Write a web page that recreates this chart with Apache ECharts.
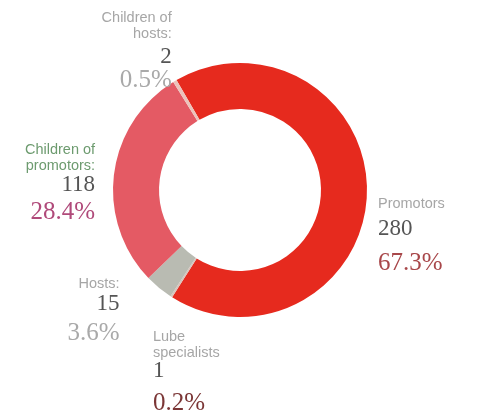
<!DOCTYPE html>
<html>
<head>
<meta charset="utf-8">
<script src="https://cdn.jsdelivr.net/npm/echarts@6/dist/echarts.min.js"></script>
<style>
html,body{margin:0;padding:0;background:#fff;}
#chart{width:482px;height:414px;}
</style>
</head>
<body>
<div id="chart"></div>
<script>
// Data (clockwise from the top-left)
var categories = ['Promotors', 'Lube specialists', 'Hosts:', 'Children of promotors:', 'Children of hosts:'];
var labelNames = [['Promotors'], ['Lube', 'specialists'], ['Hosts:'], ['Children of', 'promotors:'], ['Children of', 'hosts:']];
var values = [280, 1, 15, 118, 2];

// Styles
var sliceColors = ['#e62a1e', '#d9c4bc', '#b9bbb2', '#e45a64', '#ecc3bb'];
var nameColors = ['#a6a6a6', '#a6a6a6', '#a6a6a6', '#6d9b6f', '#a6a6a6'];
var pctColors = ['#a8474a', '#7b3636', '#a9a9a9', '#b04a7a', '#a9a9a9'];
var valueLineHeights = [34, 20, 22, 22, 30];
var pctLineHeights = [36, 44, 38, 34, 16];
// label nudges relative to library-computed label anchors
var labelShift = [
  {dx: -4, dy: 46},
  {dx: -8, dy: 72, align: 'left'},
  {dx: -28, dy: 19},
  {dx: -4, dy: 13},
  {dx: 7, dy: -23}
];

var total = values.reduce(function (a, b) { return a + b; }, 0);

var rich = {};
for (var i = 0; i < values.length; i++) {
  rich['n' + i] = {fontFamily: 'Liberation Sans', fontSize: 14.5, color: nameColors[i], lineHeight: 16};
  rich['v' + i] = {fontFamily: 'Liberation Serif', fontSize: 23, color: '#555555', lineHeight: valueLineHeights[i]};
  rich['p' + i] = {fontFamily: 'Liberation Serif', fontSize: 25, color: pctColors[i], lineHeight: pctLineHeights[i]};
}

var chart = echarts.init(document.getElementById('chart'), null, {renderer: 'canvas'});
chart.setOption({
  animation: false,
  backgroundColor: '#ffffff',
  series: [{
    type: 'pie',
    center: [240, 190],
    radius: [81, 127],
    startAngle: 120,
    clockwise: true,
    avoidLabelOverlap: false,
    minAngle: 0,
    data: categories.map(function (c, i) {
      return {name: c, value: values[i], itemStyle: {color: sliceColors[i]}};
    }),
    label: {
      show: true,
      position: 'outside',
      distanceToLabelLine: 5,
      rich: rich,
      formatter: function (p) {
        var i = p.dataIndex;
        var lines = labelNames[i].map(function (s) { return '{n' + i + '|' + s + '}'; });
        lines.push('{v' + i + '|' + values[i] + '}');
        lines.push('{p' + i + '|' + (values[i] / total * 100).toFixed(1) + '%}');
        return lines.join('\n');
      }
    },
    labelLine: {show: false, length: 10, length2: 0},
    labelLayout: function (p) {
      var s = labelShift[p.dataIndex];
      var o = {dx: s.dx, dy: s.dy};
      if (s.align) o.align = s.align;
      return o;
    },
    emphasis: {disabled: true}
  }]
});
</script>
</body>
</html>
